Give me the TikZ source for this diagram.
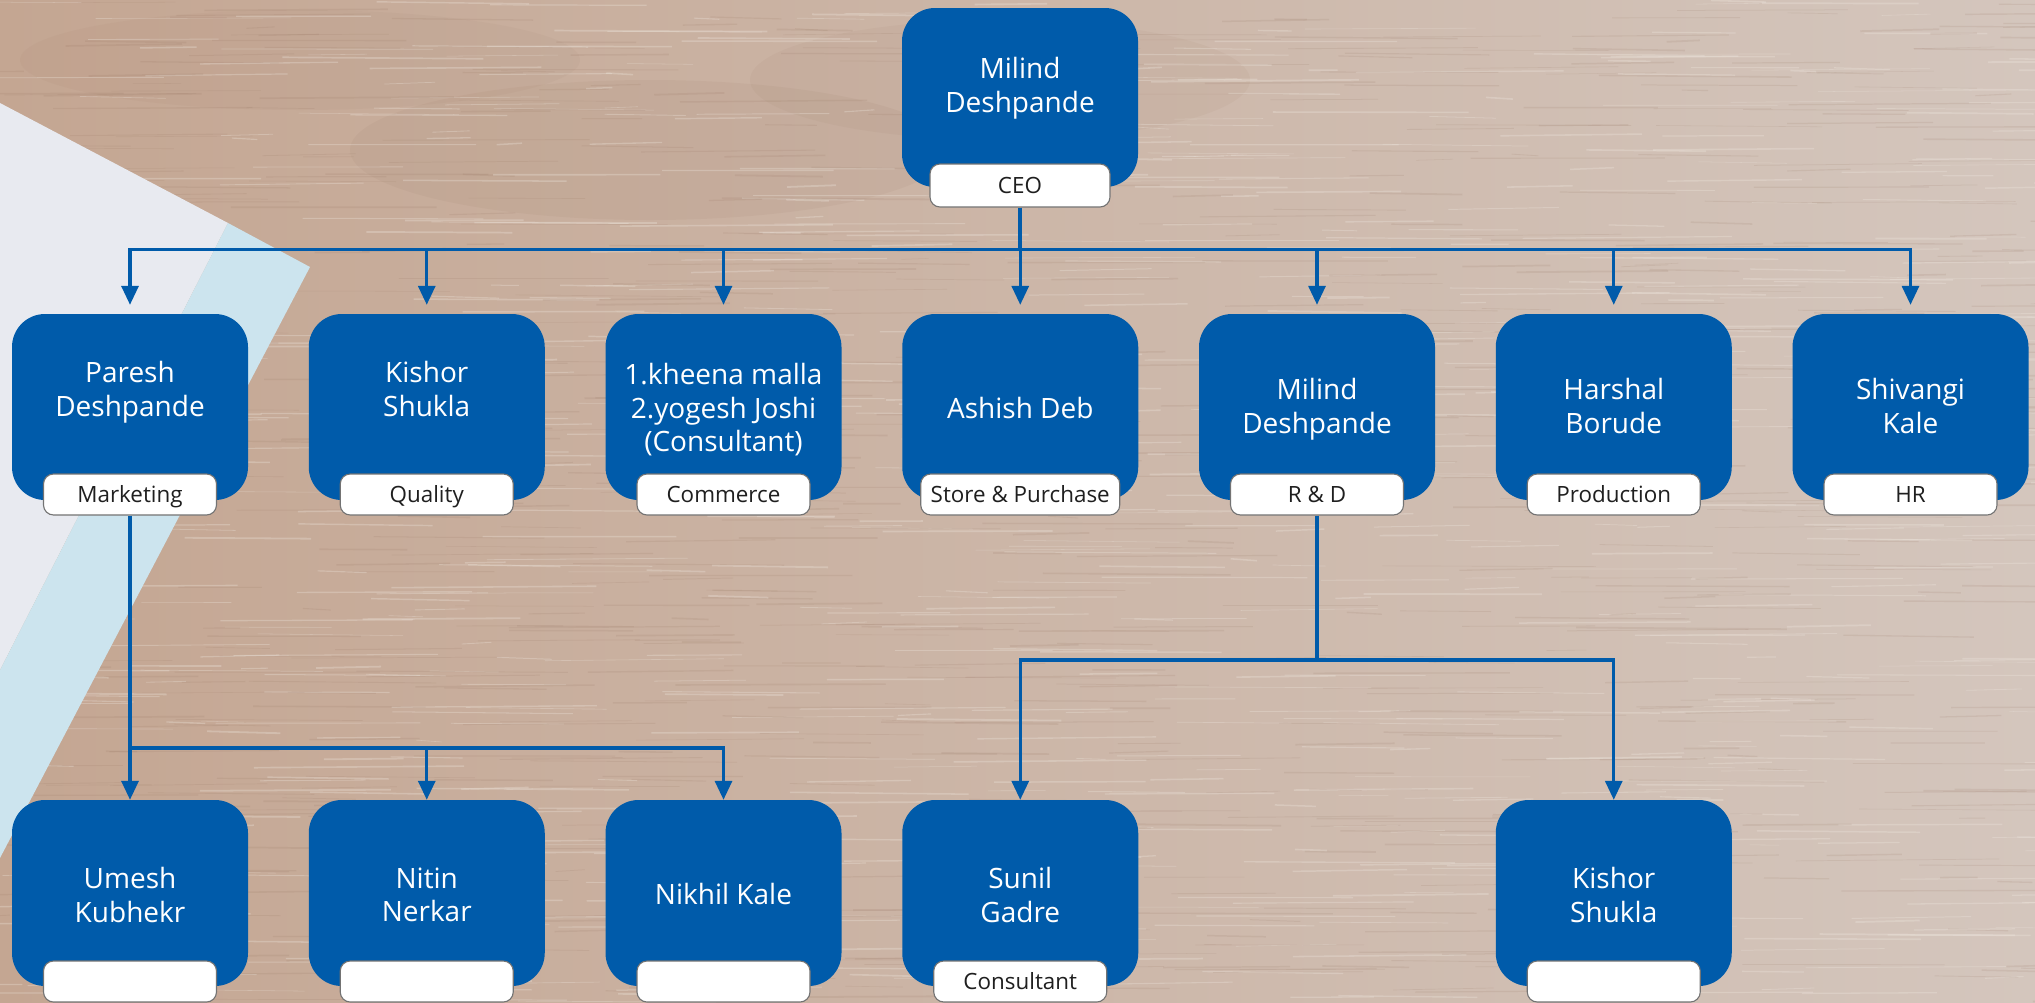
\documentclass[tikz,border=0pt]{standalone}
\usepackage{fontspec}
\setmainfont{Open Sans}
\usetikzlibrary{arrows.meta,calc}
\definecolor{boxblue}{RGB}{0,91,170}
\definecolor{paperw}{RGB}{232,234,240}
\definecolor{paperb}{RGB}{204,228,238}
\definecolor{woodL}{RGB}{196,166,146}
\definecolor{woodR}{RGB}{212,198,189}
\definecolor{grainD}{RGB}{140,105,85}
\definecolor{grainL}{RGB}{240,233,225}
\definecolor{lblborder}{RGB}{115,115,115}
\begin{document}
\begin{tikzpicture}[x=1pt,y=-1pt,
  pbox/.style={draw=none, fill=boxblue, rounded corners=33pt, minimum width=236pt, minimum height=186pt, inner sep=0pt},
  ptext/.style={anchor=north, text=white, align=center, inner sep=0pt, font=\fontsize{28}{33.5}\selectfont},
  lbl/.style={draw=lblborder, line width=1.1pt, fill=white, rounded corners=10pt, minimum width=173pt, minimum height=41pt, inner xsep=10pt, inner ysep=0pt, text height=16pt, text depth=0pt, font=\fontsize{22.4}{24}\selectfont, text=black!88},
  conn/.style={draw=boxblue, line width=3.2pt},
  arr/.style={conn, -{Triangle[length=19pt,width=17pt]}},
]
\useasboundingbox (0,0) rectangle (2035,1002);
% wood background
\shade[left color=woodL, right color=woodR] (0,0) rectangle (2035,1002);
\begin{scope}
\clip (0,0) rectangle (2035,1002);
\fill[grainD, opacity=0.07] (650,150) ellipse (300pt and 70pt);
\fill[grainD, opacity=0.06] (1000,80) ellipse (250pt and 60pt);
\fill[grainD, opacity=0.05] (300,60) ellipse (280pt and 50pt);
\pgfmathsetseed{42}
\foreach \i in {1,...,1600}{
  \pgfmathsetmacro\gx{rnd*2150-80}
  \pgfmathsetmacro\gy{rnd*1002}
  \pgfmathsetmacro\gl{25+rnd*190}
  \pgfmathsetmacro\gw{0.5+rnd*1.3}
  \pgfmathsetmacro\gs{rnd*4-2}
  \ifodd\i
    \draw[grainL, opacity=0.30, line width=\gw pt] (\gx,\gy) -- ++(\gl,\gs);
  \else
    \draw[grainD, opacity=0.12, line width=\gw pt] (\gx,\gy) -- ++(\gl,\gs);
  \fi
}
% paper
\fill[paperw] (0,103) -- (228,223) -- (0,670) -- cycle;
\fill[paperb] (228,223) -- (310,267) -- (0,858) -- (0,670) -- cycle;
\end{scope}

% top
\node[pbox, minimum height=179pt] (ceo) at (1020,97.5) {};
\node[ptext] (ceot) at (1020,57.5) {Milind\\Deshpande};
\node[lbl, minimum width=180pt, minimum height=43pt] (lceo) at (1020,185.5) {CEO};

% row 2
\node[pbox] (p1) at (130,407) {};
\node[pbox] (p2) at (426.75,407) {};
\node[pbox] (p3) at (723.5,407) {};
\node[pbox] (p4) at (1020.25,407) {};
\node[pbox] (p5) at (1317,407) {};
\node[pbox] (p6) at (1613.75,407) {};
\node[pbox] (p7) at (1910.5,407) {};
\node[ptext] (t1) at (130,361.5) {Paresh\\Deshpande};
\node[ptext] (t2) at (426.75,361.5) {Kishor\\Shukla};
\node[ptext] (t3) at (723.5,363.5) {1.kheena malla\\2.yogesh Joshi\\(Consultant)};
\node[ptext] (t4) at (1020.25,397.5) {Ashish Deb};
\node[ptext] (t5) at (1317,378.5) {Milind\\Deshpande};
\node[ptext] (t6) at (1613.75,378.5) {Harshal\\Borude};
\node[ptext] (t7) at (1910.5,378.5) {Shivangi\\Kale};
\node[lbl] (l1) at (130,494.5) {Marketing};
\node[lbl] (l2) at (426.75,494.5) {Quality};
\node[lbl] (l3) at (723.5,494.5) {Commerce};
\node[lbl] (l4) at (1020.25,494.5) {Store \& Purchase};
\node[lbl] (l5) at (1317,494.5) {R \& D};
\node[lbl] (l6) at (1613.75,494.5) {Production};
\node[lbl] (l7) at (1910.5,494.5) {HR};

% row 3
\node[pbox] (q1) at (130,893) {};
\node[pbox] (q2) at (426.75,893) {};
\node[pbox] (q3) at (723.5,893) {};
\node[pbox] (q4) at (1020.25,893) {};
\node[pbox] (q6) at (1613.75,893) {};
\node[ptext] (u1) at (130,867.5) {Umesh\\Kubhekr};
\node[ptext] (u2) at (426.75,867.5) {Nitin\\Nerkar};
\node[ptext] (u3) at (723.5,883.5) {Nikhil Kale};
\node[ptext] (u4) at (1020.25,867.5) {Sunil\\Gadre};
\node[ptext] (u6) at (1613.75,867.5) {Kishor\\Shukla};
\node[lbl] (m1) at (130,981.5) {};
\node[lbl] (m2) at (426.75,981.5) {};
\node[lbl] (m3) at (723.5,981.5) {};
\node[lbl] (m4) at (1020.25,981.5) {Consultant};
\node[lbl] (m6) at (1613.75,981.5) {};

% connectors
\coordinate (b1) at (0,249.5);
\coordinate (b2) at (0,748);
\coordinate (b3) at (0,660);
\draw[conn] (lceo.south) -- (lceo.south |- b1);
\draw[arr, shorten >=9pt] (lceo.south |- b1) -| (p1.north);
\draw[arr, shorten >=9pt] (lceo.south |- b1) -| (p7.north);
\foreach \k in {2,...,6}{
  \draw[arr, shorten >=9pt] (p\k.north |- b1) -- (p\k.north);
}
\draw[arr] (l1.south) -- (q1.north);
\draw[arr] (l1.south |- b2) -| (q3.north);
\draw[arr] (q2.north |- b2) -- (q2.north);
\draw[conn] (l5.south) -- (l5.south |- b3);
\draw[arr] (l5.south |- b3) -| (q4.north);
\draw[arr] (l5.south |- b3) -| (q6.north);
\end{tikzpicture}
\end{document}
